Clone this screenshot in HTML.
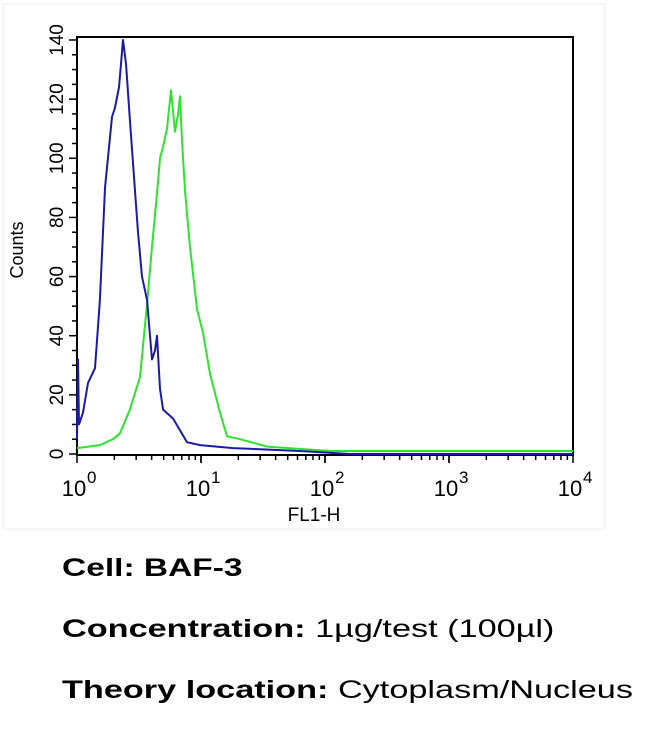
<!DOCTYPE html>
<html><head><meta charset="utf-8"><style>
body{margin:0;background:#fff;width:650px;height:738px;overflow:hidden;font-family:"Liberation Sans",Arial,sans-serif}
.t{position:absolute;left:62px;font-size:25px;color:#000;transform:scaleX(1.37);transform-origin:0 0;white-space:nowrap}
.t b{font-weight:bold}
</style></head><body>
<svg id="chart" width="650" height="540" style="position:absolute;left:0;top:0" font-family="Liberation Sans, Arial, sans-serif"></svg>
<div class="t" style="top:554px;transform:scaleX(1.34)"><b>Cell: BAF-3</b></div>
<div class="t" style="top:615px"><b>Concentration:</b> 1µg/test (100µl)</div>
<div class="t" style="top:676px"><b>Theory location:</b> Cytoplasm/Nucleus</div>
<script>
const yTicks=[0,20,40,60,80,100,120,140];
const xDecades=[0,1,2,3,4];
const blueLogX=[0,.008,.016,.024,.048,.089,.145,.185,.226,.282,.306,.339,.371,.395,.427,.468,.492,.524,.565,.581,.605,.629,.645,.669,.694,.774,.831,.887,.992,1.258,1.798,2.202,4];
const blueCounts=[5,32,10,11,14,24,29,52,90,114,117,124,140,132,113,89,75,60,52,44,32,35,40,22,15,12,8,4,3,2,1,0,0];
const greenLogX=[0,.185,.29,.347,.427,.508,.565,.605,.645,.669,.694,.726,.758,.79,.815,.831,.847,.871,.911,.968,1.016,1.073,1.153,1.21,1.315,1.532,2.04,4];
const greenCounts=[2,3,5,7,15,26,51,70,88,100,104,110,123,109,115,121,106,89,70,49,41,27,14,6,5,2.5,1,1];
const L=77,R=573,T=37,B=454;
const xs=v=>L+(R-L)*v/4, ys=c=>B-(B-40)*c/140;
const svg=document.getElementById('chart');
const NS='http://www.w3.org/2000/svg';
function mk(tag,attrs){const e=document.createElementNS(NS,tag);for(const k in attrs)e.setAttribute(k,attrs[k]);svg.appendChild(e);return e;}
let f=mk('rect',{x:3,y:4,width:602,height:525,fill:'none',stroke:'#eee'});


let box=mk('rect',{x:L,y:T,width:R-L,height:B-T+1,fill:'none',stroke:'#000','stroke-width':2});


for(let c=0;c<=140;c+=5){const y=ys(c);const maj=c%20==0;
 let tk=mk('line',{x1:L-(maj?8:5),x2:L,y1:y,y2:y,stroke:'#000','stroke-width':1.5});
 
 }
yTicks.forEach(c=>{const y=ys(c);
 let t=mk('text',{x:0,y:0,transform:`translate(${L-14},${y}) rotate(-90)`,'text-anchor':'middle','font-size':19});
 t.textContent=c;
 
 });
for(let d=0;d<4;d++)for(let k=1;k<=10;k++){const x=xs(d+Math.log10(k));
 let tk=mk('line',{x1:x,x2:x,y1:B,y2:B+(k==1||k==10?9:6),stroke:'#000','stroke-width':1.5});
 
 }
xDecades.forEach(d=>{const x=xs(d);
 let t=mk('text',{x:x-3,y:B+42,'text-anchor':'middle','font-size':22});
 t.textContent='10';
 
 
 let s=mk('text',{x:x+10,y:B+29,'font-size':17});
 s.textContent=d;
 
 });
let xl=mk('text',{x:314,y:B+67,'text-anchor':'middle','font-size':19});
xl.textContent='FL1-H';


let yl=mk('text',{x:0,y:0,transform:`translate(23,250) rotate(-90)`,'text-anchor':'middle','font-size':18});
yl.textContent='Counts';


function series(xv,yv,col,name){const p=xv.map((v,i)=>xs(v).toFixed(1)+','+ys(yv[i]).toFixed(1)).join(' ');
 let l=mk('polyline',{points:p,fill:'none',stroke:col,'stroke-width':2,'stroke-linejoin':'round'});
 
 }
series(greenLogX,greenCounts,'#2fe22f','sample-histogram-green');
series(blueLogX,blueCounts,'#1a1aa8','control-histogram-blue');
</script>
</body></html>
